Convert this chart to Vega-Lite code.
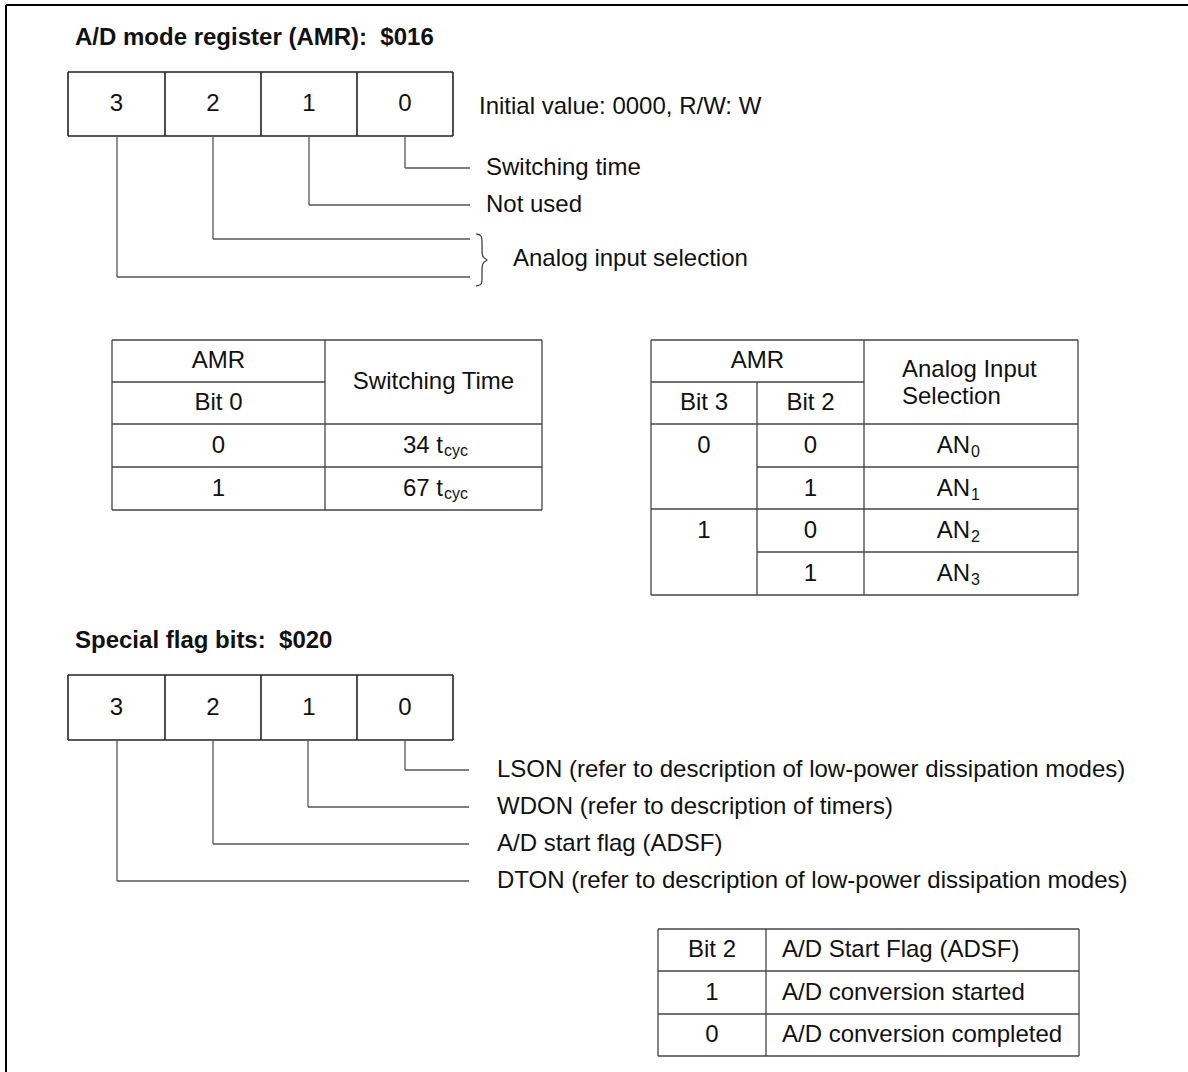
{
  "$schema": "https://vega.github.io/schema/vega-lite/v6.json",
  "width": 1188,
  "height": 1072,
  "padding": 0,
  "autosize": {"type": "none"},
  "background": "white",
  "config": {"view": {"stroke": null}, "text": {"font": "Liberation Sans", "color": "#111"}},
  "layer": [
    {
      "data": {"values": [
        {"x": 6, "y": 5, "x2": 1188, "y2": 5},
        {"x": 6, "y": 5, "x2": 6, "y2": 1072}
      ]},
      "mark": {"type": "rule", "color": "#000", "strokeWidth": 2},
      "encoding": {
        "x": {"field": "x", "type": "quantitative", "scale": {"domain": [0, 1188], "nice": false, "zero": false}, "axis": null},
        "y": {"field": "y", "type": "quantitative", "scale": {"domain": [0, 1072], "reverse": true, "nice": false, "zero": false}, "axis": null},
        "x2": {"field": "x2"},
        "y2": {"field": "y2"}
      }
    },
    {
      "data": {"values": [
        {"x": 68, "y": 72, "x2": 453, "y2": 72},
        {"x": 68, "y": 136, "x2": 453, "y2": 136},
        {"x": 68, "y": 72, "x2": 68, "y2": 136},
        {"x": 165, "y": 72, "x2": 165, "y2": 136},
        {"x": 261, "y": 72, "x2": 261, "y2": 136},
        {"x": 357, "y": 72, "x2": 357, "y2": 136},
        {"x": 453, "y": 72, "x2": 453, "y2": 136},
        {"x": 68, "y": 675, "x2": 453, "y2": 675},
        {"x": 68, "y": 740, "x2": 453, "y2": 740},
        {"x": 68, "y": 675, "x2": 68, "y2": 740},
        {"x": 165, "y": 675, "x2": 165, "y2": 740},
        {"x": 261, "y": 675, "x2": 261, "y2": 740},
        {"x": 357, "y": 675, "x2": 357, "y2": 740},
        {"x": 453, "y": 675, "x2": 453, "y2": 740}
      ]},
      "mark": {"type": "rule", "color": "#222", "strokeWidth": 1.6},
      "encoding": {
        "x": {"field": "x", "type": "quantitative", "scale": {"domain": [0, 1188], "nice": false, "zero": false}, "axis": null},
        "y": {"field": "y", "type": "quantitative", "scale": {"domain": [0, 1072], "reverse": true, "nice": false, "zero": false}, "axis": null},
        "x2": {"field": "x2"},
        "y2": {"field": "y2"}
      }
    },
    {
      "data": {"values": [
        {"x": 112, "y": 340, "x2": 542, "y2": 340},
        {"x": 112, "y": 510, "x2": 542, "y2": 510},
        {"x": 112, "y": 340, "x2": 112, "y2": 510},
        {"x": 542, "y": 340, "x2": 542, "y2": 510},
        {"x": 325, "y": 340, "x2": 325, "y2": 510},
        {"x": 112, "y": 382, "x2": 325, "y2": 382},
        {"x": 112, "y": 424, "x2": 542, "y2": 424},
        {"x": 112, "y": 467, "x2": 542, "y2": 467},
        {"x": 651, "y": 340, "x2": 1078, "y2": 340},
        {"x": 651, "y": 595, "x2": 1078, "y2": 595},
        {"x": 651, "y": 340, "x2": 651, "y2": 595},
        {"x": 1078, "y": 340, "x2": 1078, "y2": 595},
        {"x": 864, "y": 340, "x2": 864, "y2": 595},
        {"x": 757, "y": 382, "x2": 757, "y2": 595},
        {"x": 651, "y": 382, "x2": 864, "y2": 382},
        {"x": 651, "y": 424, "x2": 1078, "y2": 424},
        {"x": 757, "y": 467, "x2": 1078, "y2": 467},
        {"x": 651, "y": 509, "x2": 1078, "y2": 509},
        {"x": 757, "y": 552, "x2": 1078, "y2": 552},
        {"x": 658, "y": 929, "x2": 1079, "y2": 929},
        {"x": 658, "y": 1056, "x2": 1079, "y2": 1056},
        {"x": 658, "y": 929, "x2": 658, "y2": 1056},
        {"x": 1079, "y": 929, "x2": 1079, "y2": 1056},
        {"x": 766, "y": 929, "x2": 766, "y2": 1056},
        {"x": 658, "y": 971, "x2": 1079, "y2": 971},
        {"x": 658, "y": 1014, "x2": 1079, "y2": 1014}
      ]},
      "mark": {"type": "rule", "color": "#444", "strokeWidth": 1.3},
      "encoding": {
        "x": {"field": "x", "type": "quantitative", "scale": {"domain": [0, 1188], "nice": false, "zero": false}, "axis": null},
        "y": {"field": "y", "type": "quantitative", "scale": {"domain": [0, 1072], "reverse": true, "nice": false, "zero": false}, "axis": null},
        "x2": {"field": "x2"},
        "y2": {"field": "y2"}
      }
    },
    {
      "data": {"values": [
        {"x": 405, "y": 136, "x2": 405, "y2": 168},
        {"x": 405, "y": 168, "x2": 470, "y2": 168},
        {"x": 309, "y": 136, "x2": 309, "y2": 205},
        {"x": 309, "y": 205, "x2": 470, "y2": 205},
        {"x": 213, "y": 136, "x2": 213, "y2": 239},
        {"x": 213, "y": 239, "x2": 470, "y2": 239},
        {"x": 117, "y": 136, "x2": 117, "y2": 277},
        {"x": 117, "y": 277, "x2": 470, "y2": 277},
        {"x": 405, "y": 740, "x2": 405, "y2": 770},
        {"x": 405, "y": 770, "x2": 469, "y2": 770},
        {"x": 308, "y": 740, "x2": 308, "y2": 807},
        {"x": 308, "y": 807, "x2": 469, "y2": 807},
        {"x": 213, "y": 740, "x2": 213, "y2": 844},
        {"x": 213, "y": 844, "x2": 469, "y2": 844},
        {"x": 117, "y": 740, "x2": 117, "y2": 881},
        {"x": 117, "y": 881, "x2": 469, "y2": 881}
      ]},
      "mark": {"type": "rule", "color": "#555", "strokeWidth": 1.3},
      "encoding": {
        "x": {"field": "x", "type": "quantitative", "scale": {"domain": [0, 1188], "nice": false, "zero": false}, "axis": null},
        "y": {"field": "y", "type": "quantitative", "scale": {"domain": [0, 1072], "reverse": true, "nice": false, "zero": false}, "axis": null},
        "x2": {"field": "x2"},
        "y2": {"field": "y2"}
      }
    },
    {
      "data": {"values": [
        {"i": 0, "x": 476, "y": 234},
        {"i": 1, "x": 482, "y": 235},
        {"i": 2, "x": 482, "y": 242},
        {"i": 3, "x": 482, "y": 254},
        {"i": 4, "x": 483, "y": 258},
        {"i": 5, "x": 489, "y": 260},
        {"i": 6, "x": 483, "y": 262},
        {"i": 7, "x": 482, "y": 266},
        {"i": 8, "x": 482, "y": 278},
        {"i": 9, "x": 482, "y": 285},
        {"i": 10, "x": 476, "y": 286}
      ]},
      "mark": {"type": "line", "color": "#333", "strokeWidth": 1.2, "interpolate": "basis"},
      "encoding": {
        "x": {"field": "x", "type": "quantitative", "scale": {"domain": [0, 1188], "nice": false, "zero": false}, "axis": null},
        "y": {"field": "y", "type": "quantitative", "scale": {"domain": [0, 1072], "reverse": true, "nice": false, "zero": false}, "axis": null},
        "order": {"field": "i", "type": "quantitative"}
      }
    },
    {
      "data": {"values": [
        {"x": 75, "y": 38, "label": "A/D mode register (AMR): \u00a0$016"},
        {"x": 75, "y": 641, "label": "Special flag bits: \u00a0$020"}
      ]},
      "mark": {"type": "text", "align": "left", "baseline": "middle", "fontSize": 24, "fontWeight": "bold"},
      "encoding": {
        "x": {"field": "x", "type": "quantitative", "scale": {"domain": [0, 1188], "nice": false, "zero": false}, "axis": null},
        "y": {"field": "y", "type": "quantitative", "scale": {"domain": [0, 1072], "reverse": true, "nice": false, "zero": false}, "axis": null},
        "text": {"field": "label"}
      }
    },
    {
      "data": {"values": [
        {"x": 116.5, "y": 104, "label": "3"},
        {"x": 213, "y": 104, "label": "2"},
        {"x": 309, "y": 104, "label": "1"},
        {"x": 405, "y": 104, "label": "0"},
        {"x": 116.5, "y": 707.5, "label": "3"},
        {"x": 213, "y": 707.5, "label": "2"},
        {"x": 309, "y": 707.5, "label": "1"},
        {"x": 405, "y": 707.5, "label": "0"},
        {"x": 218.5, "y": 361, "label": "AMR"},
        {"x": 218.5, "y": 403, "label": "Bit 0"},
        {"x": 433.5, "y": 382, "label": "Switching Time"},
        {"x": 218.5, "y": 446, "label": "0"},
        {"x": 218.5, "y": 489, "label": "1"},
        {"x": 757.5, "y": 361, "label": "AMR"},
        {"x": 704, "y": 403, "label": "Bit 3"},
        {"x": 810.5, "y": 403, "label": "Bit 2"},
        {"x": 704, "y": 446, "label": "0"},
        {"x": 810.5, "y": 446, "label": "0"},
        {"x": 810.5, "y": 489, "label": "1"},
        {"x": 704, "y": 531, "label": "1"},
        {"x": 810.5, "y": 531, "label": "0"},
        {"x": 810.5, "y": 574, "label": "1"},
        {"x": 712, "y": 950, "label": "Bit 2"},
        {"x": 712, "y": 992.5, "label": "1"},
        {"x": 712, "y": 1035, "label": "0"}
      ]},
      "mark": {"type": "text", "align": "center", "baseline": "middle", "fontSize": 24},
      "encoding": {
        "x": {"field": "x", "type": "quantitative", "scale": {"domain": [0, 1188], "nice": false, "zero": false}, "axis": null},
        "y": {"field": "y", "type": "quantitative", "scale": {"domain": [0, 1072], "reverse": true, "nice": false, "zero": false}, "axis": null},
        "text": {"field": "label"}
      }
    },
    {
      "data": {"values": [
        {"x": 479, "y": 107, "label": "Initial value: 0000, R/W: W"},
        {"x": 486, "y": 168, "label": "Switching time"},
        {"x": 486, "y": 205, "label": "Not used"},
        {"x": 513, "y": 259, "label": "Analog input selection"},
        {"x": 902, "y": 370, "label": "Analog Input"},
        {"x": 902, "y": 397, "label": "Selection"},
        {"x": 497, "y": 770, "label": "LSON (refer to description of low-power dissipation modes)"},
        {"x": 497, "y": 807, "label": "WDON (refer to description of timers)"},
        {"x": 497, "y": 844, "label": "A/D start flag (ADSF)"},
        {"x": 497, "y": 881, "label": "DTON (refer to description of low-power dissipation modes)"},
        {"x": 782, "y": 950, "label": "A/D Start Flag (ADSF)"},
        {"x": 782, "y": 992.5, "label": "A/D conversion started"},
        {"x": 782, "y": 1035, "label": "A/D conversion completed"}
      ]},
      "mark": {"type": "text", "align": "left", "baseline": "middle", "fontSize": 24},
      "encoding": {
        "x": {"field": "x", "type": "quantitative", "scale": {"domain": [0, 1188], "nice": false, "zero": false}, "axis": null},
        "y": {"field": "y", "type": "quantitative", "scale": {"domain": [0, 1072], "reverse": true, "nice": false, "zero": false}, "axis": null},
        "text": {"field": "label"}
      }
    },
    {
      "data": {"values": [
        {"x": 443, "y": 446, "label": "34 t"},
        {"x": 443, "y": 489, "label": "67 t"},
        {"x": 970, "y": 446, "label": "AN"},
        {"x": 970, "y": 489, "label": "AN"},
        {"x": 970, "y": 531, "label": "AN"},
        {"x": 970, "y": 574, "label": "AN"}
      ]},
      "mark": {"type": "text", "align": "right", "baseline": "middle", "fontSize": 24},
      "encoding": {
        "x": {"field": "x", "type": "quantitative", "scale": {"domain": [0, 1188], "nice": false, "zero": false}, "axis": null},
        "y": {"field": "y", "type": "quantitative", "scale": {"domain": [0, 1072], "reverse": true, "nice": false, "zero": false}, "axis": null},
        "text": {"field": "label"}
      }
    },
    {
      "data": {"values": [
        {"x": 444, "y": 451, "label": "cyc"},
        {"x": 444, "y": 494, "label": "cyc"},
        {"x": 971, "y": 452, "label": "0"},
        {"x": 971, "y": 495, "label": "1"},
        {"x": 971, "y": 537, "label": "2"},
        {"x": 971, "y": 580, "label": "3"}
      ]},
      "mark": {"type": "text", "align": "left", "baseline": "middle", "fontSize": 16},
      "encoding": {
        "x": {"field": "x", "type": "quantitative", "scale": {"domain": [0, 1188], "nice": false, "zero": false}, "axis": null},
        "y": {"field": "y", "type": "quantitative", "scale": {"domain": [0, 1072], "reverse": true, "nice": false, "zero": false}, "axis": null},
        "text": {"field": "label"}
      }
    }
  ]
}
